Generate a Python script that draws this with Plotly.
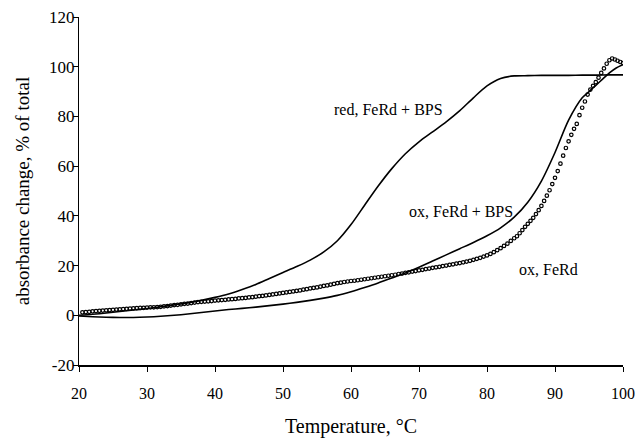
import plotly.graph_objects as go

# ---- data ----
temp_red = [20, 22, 24, 26, 28, 30, 32, 34, 36, 38, 40, 42, 44, 46, 48, 50, 52, 54, 56, 58,
            60, 62, 64, 66, 68, 70, 72, 74, 76, 78, 80, 82, 84, 86, 88, 90, 92, 94, 96, 98, 100]
red_ferd_bps = [0, 0.4, 0.9, 1.5, 2.1, 2.7, 3.4, 4.2, 5.0, 6.0, 7.2, 8.6, 10.4, 12.4, 14.8, 17.2,
                19.6, 22.2, 25.5, 30.0, 36.5, 44.3, 52.0, 59.0, 65.0, 69.8, 73.8, 77.8, 82.3, 87.5,
                92.3, 95.3, 96.3, 96.4, 96.5, 96.5, 96.5, 96.6, 96.6, 96.7, 96.7]

temp_oxbps = [20, 22, 24, 26, 28, 30, 32, 34, 36, 38, 40, 42, 44, 46, 48, 50, 52, 54, 56, 58,
              60, 62, 64, 66, 68, 70, 72, 74, 76, 78, 80, 82, 84, 86, 88, 90, 92, 94, 95, 96,
              97, 98, 99, 100]
ox_ferd_bps = [-0.3, -0.6, -0.8, -0.9, -0.9, -0.7, -0.4, 0.0, 0.5, 1.1, 1.7, 2.3, 2.8, 3.3, 3.9,
               4.5, 5.2, 6.0, 6.9, 8.0, 9.5, 11.2, 13.0, 15.0, 17.0, 19.3, 21.8, 24.3, 26.8, 29.3,
               32.0, 35.2, 39.5, 45.5, 54.0, 65.5, 78.5, 87.5, 90.0, 92.5, 95.0, 97.5, 99.5, 100.8]

temp_ox = [20.5, 21.0, 21.5, 22.0, 22.5, 23.0, 23.5, 24.0, 24.5, 25.0, 25.5, 26.0, 26.5, 27.0,
           27.5, 28.0, 28.5, 29.0, 29.5, 30.0, 30.5, 31.0, 31.5, 32.0, 32.5, 33.0, 33.5, 34.0,
           34.5, 35.0, 35.5, 36.0, 36.5, 37.0, 37.5, 38.0, 38.5, 39.0, 39.5, 40.0, 40.5, 41.0,
           41.5, 42.0, 42.5, 43.0, 43.5, 44.0, 44.5, 45.0, 45.5, 46.0, 46.5, 47.0, 47.5, 48.0,
           48.5, 49.0, 49.5, 50.0, 50.5, 51.0, 51.5, 52.0, 52.5, 53.0, 53.5, 54.0, 54.5, 55.0,
           55.5, 56.0, 56.5, 57.0, 57.5, 58.0, 58.5, 59.0, 59.5, 60.0, 60.5, 61.0, 61.5, 62.0,
           62.5, 63.0, 63.5, 64.0, 64.5, 65.0, 65.5, 66.0, 66.5, 67.0, 67.5, 68.0, 68.5, 69.0,
           69.5, 70.0, 70.5, 71.0, 71.5, 72.0, 72.5, 73.0, 73.5, 74.0, 74.5, 75.0, 75.5, 76.0,
           76.5, 77.0, 77.5, 78.0, 78.5, 79.0, 79.5, 80.0, 80.5, 81.0, 81.5, 82.0, 82.5, 83.0,
           83.5, 84.0, 84.4, 84.8, 85.2, 85.6, 86.0, 86.4, 86.8, 87.2, 87.6, 88.0, 88.4, 88.8,
           89.2, 89.6, 90.0, 90.4, 90.8, 91.2, 91.6, 92.0, 92.4, 92.8, 93.2, 93.6, 94.0, 94.4,
           94.8, 95.2, 95.6, 96.0, 96.4, 96.8, 97.2, 97.6, 98.0, 98.4, 98.8, 99.2, 99.6, 100.0]
ox_ferd = [1.2, 1.3, 1.4, 1.6, 1.7, 1.8, 1.9, 2.0, 2.1, 2.2, 2.3, 2.4, 2.5, 2.6,
           2.7, 2.8, 2.9, 3.0, 3.0, 3.1, 3.2, 3.2, 3.3, 3.4, 3.6, 3.7, 3.9, 4.1,
           4.2, 4.4, 4.6, 4.7, 4.9, 5.1, 5.3, 5.4, 5.5, 5.6, 5.7, 5.9, 6.0, 6.1,
           6.2, 6.4, 6.5, 6.6, 6.8, 6.9, 7.0, 7.2, 7.3, 7.5, 7.7, 7.8, 8.0, 8.2,
           8.4, 8.6, 8.8, 9.0, 9.2, 9.4, 9.6, 9.8, 10.0, 10.3, 10.5, 10.8, 11.0, 11.2,
           11.5, 11.8, 12.0, 12.3, 12.6, 12.9, 13.1, 13.4, 13.6, 13.8, 13.9, 14.1, 14.3, 14.5,
           14.7, 14.9, 15.1, 15.3, 15.5, 15.7, 15.9, 16.1, 16.3, 16.6, 16.8, 17.1, 17.3, 17.6,
           17.8, 18.1, 18.3, 18.6, 18.8, 19.1, 19.3, 19.5, 19.8, 20.0, 20.3, 20.5, 20.8, 21.0,
           21.3, 21.6, 21.9, 22.3, 22.7, 23.1, 23.6, 24.1, 24.7, 25.4, 26.2, 27.0, 27.9, 28.8,
           29.9, 31.0, 31.8, 33.0, 34.3, 35.6, 36.8, 38.0, 39.2, 40.7, 42.3, 44.0, 46.0, 48.1,
           50.3, 52.8, 55.3, 58.0, 61.0, 64.2, 67.3, 70.0, 72.6, 75.0, 77.0, 80.5, 83.5, 86.0,
           88.8, 90.8, 92.3, 93.8, 95.6, 97.5, 99.3, 101.2, 102.6, 103.3, 102.9, 102.4, 101.9, 101.5]

x_ticks = [20, 30, 40, 50, 60, 70, 80, 90, 100]
y_ticks = [-20, 0, 20, 40, 60, 80, 100, 120]

labels = ["red, FeRd + BPS", "ox, FeRd + BPS", "ox, FeRd"]
label_x = [65.5, 76.2, 89.1]
label_y = [82.6, 41.6, 18.5]

FONT = "Liberation Serif"

fig = go.Figure()
fig.add_trace(go.Scatter(x=temp_red, y=red_ferd_bps, mode="lines",
                         line=dict(color="black", width=1.6, shape="spline", smoothing=0.8),
                         name=labels[0]))
fig.add_trace(go.Scatter(x=temp_oxbps, y=ox_ferd_bps, mode="lines",
                         line=dict(color="black", width=1.6, shape="spline", smoothing=0.8),
                         name=labels[1]))
fig.add_trace(go.Scatter(x=temp_ox, y=ox_ferd, mode="markers",
                         marker=dict(symbol="circle-open", size=3.5, color="black",
                                     line=dict(width=1.2, color="black")),
                         name=labels[2]))

for t, x, y in zip(labels, label_x, label_y):
    fig.add_annotation(x=x, y=y, text=t, showarrow=False,
                       font=dict(family=FONT, size=16, color="black"))

fig.update_layout(
    width=635, height=438,
    margin=dict(l=79, r=12, t=16.5, b=73.3),
    paper_bgcolor="white", plot_bgcolor="white",
    showlegend=False,
    font=dict(family=FONT, size=16, color="black"),
    xaxis=dict(range=[20, 100], tickvals=x_ticks, ticktext=[str(v) for v in x_ticks],
               showline=True, linecolor="black", linewidth=1.5,
               ticks="outside", ticklen=5, tickcolor="black", tickwidth=1,
               showgrid=False, zeroline=False, ticklabelstandoff=8, automargin=False,
               ticklabeloverflow="allow",
               tickfont=dict(family=FONT, size=16, color="black"),
               title=dict(text="Temperature, °C", font=dict(family=FONT, size=20),
                          standoff=23)),
    yaxis=dict(range=[-20, 120], tickvals=y_ticks, ticktext=[str(v) for v in y_ticks],
               showline=True, linecolor="black", linewidth=1.2,
               ticks="outside", ticklen=5, tickcolor="black", tickwidth=1,
               showgrid=False, zeroline=False, automargin=False, ticklabelstandoff=-5,
               ticklabeloverflow="allow",
               tickfont=dict(family=FONT, size=17, color="black"),
               title=dict(text="absorbance change, % of total",
                          font=dict(family=FONT, size=19), standoff=14)),
)

# remove the default page margin so the 635x438 figure fills the window exactly
fig.write_html("out.html", config={"displayModeBar": False},
               post_script="document.body.style.margin='0';")
